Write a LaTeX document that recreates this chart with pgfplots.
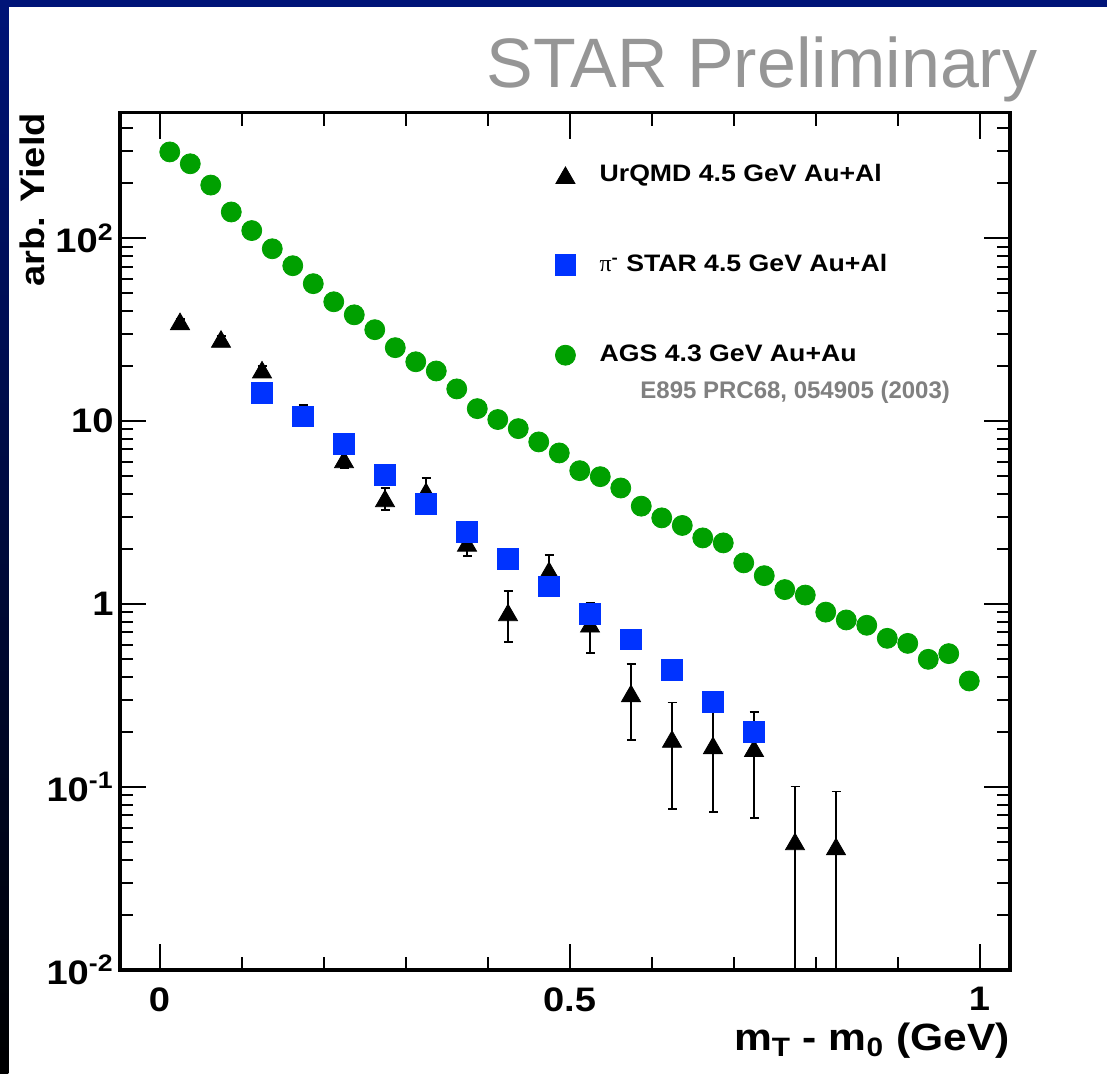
\documentclass[border=0pt]{standalone}
\usepackage{fontspec}
\setmainfont{Liberation Sans}[FakeStretch=1.12]
\newfontfamily\plainsans{Liberation Sans}
\newfontfamily\greekfont{Liberation Serif}
\usepackage{pgfplots}
\pgfplotsset{compat=1.18}

\definecolor{slidenavy}{RGB}{0,20,120}
\definecolor{rootgreen}{RGB}{0,160,0}
\definecolor{rootblue}{RGB}{0,51,255}
\definecolor{prelimgray}{RGB}{150,150,150}
\definecolor{refgray}{RGB}{128,128,128}

% UrQMD 4.5 GeV Au+Al
\pgfplotstableread{
x      y       ey
0.025  35.1    1.0
0.075  28.1    1.0
0.125  19.1    0.9
0.175  10.8    1.4
0.225  6.17    0.6
0.275  3.78    0.52
0.325  4.13    0.77
0.375  2.16    0.33
0.425  0.90    0.28
0.475  1.53    0.33
0.525  0.78    0.24
0.575  0.325   0.145
0.625  0.183   0.107
0.675  0.169   0.096
0.725  0.163   0.095
0.775  0.0504  0.0503
0.825  0.0473  0.0472
}\urqmd

% pi- STAR 4.5 GeV Au+Al
\pgfplotstableread{
x      y
0.125  14.3
0.175  10.6
0.225  7.5
0.275  5.06
0.325  3.53
0.375  2.47
0.425  1.76
0.475  1.25
0.525  0.88
0.575  0.641
0.625  0.436
0.675  0.292
0.725  0.200
}\starpi

% AGS 4.3 GeV Au+Au (E895)
\pgfplotstableread{
x       y
0.0125  296
0.0375  255
0.0625  195
0.0875  139
0.1125  110
0.1375  87.5
0.1625  70.7
0.1875  56.4
0.2125  44.9
0.2375  38.1
0.2625  31.6
0.2875  25.2
0.3125  21.1
0.3375  18.8
0.3625  15.0
0.3875  11.7
0.4125  10.2
0.4375  9.1
0.4625  7.7
0.4875  6.7
0.5125  5.36
0.5375  4.97
0.5625  4.31
0.5875  3.43
0.6125  2.96
0.6375  2.69
0.6625  2.30
0.6875  2.16
0.7125  1.68
0.7375  1.43
0.7625  1.20
0.7875  1.12
0.8125  0.904
0.8375  0.819
0.8625  0.766
0.8875  0.650
0.9125  0.610
0.9375  0.499
0.9625  0.536
0.9875  0.380
}\ags

\begin{document}
\begin{tikzpicture}
\useasboundingbox (-60pt,-51.5pt) rectangle (493.5pt,485pt);
\fill[white] (-60pt,-51.5pt) rectangle (493.5pt,485pt);
\fill[slidenavy] (-60pt,481.25pt) rectangle (493.5pt,485pt);
\shade[top color=slidenavy, bottom color=black] (-60pt,-51.5pt) rectangle (-55.75pt,485pt);

\begin{axis}[
  at={(0,0)}, anchor=south west,
  width=445pt, height=428.65pt, scale only axis,
  xmin=-0.0482, xmax=1.0372,
  ymode=log, ymin=0.01, ymax=484.9,
  xtick={0,0.5,1}, xticklabels={0,0.5,1},
  minor xtick={0.1,0.2,0.3,0.4,0.6,0.7,0.8,0.9},
  ytick={0.01,0.1,1,10,100},
  yticklabels={10\textsuperscript{-2},10\textsuperscript{-1},1,10,10\textsuperscript{2}},
  minor ytick={0.02,0.03,0.04,0.05,0.06,0.07,0.08,0.09,
               0.2,0.3,0.4,0.5,0.6,0.7,0.8,0.9,
               2,3,4,5,6,7,8,9,
               20,30,40,50,60,70,80,90,
               200,300,400},
  tick align=inside,
  major tick length=13pt, minor tick length=6.5pt,
  every tick/.style={black, line width=1pt},
  axis line style={line width=1.7pt},
  tick label style={font=\fontsize{17}{20}\selectfont\bfseries},
  xticklabel style={anchor=north, inner sep=0pt, yshift=-8.5pt},
  yticklabel style={anchor=east, inner sep=0pt, xshift=-3pt},
  xlabel={m\textsubscript{T} - m\textsubscript{0} (GeV)},
  xlabel style={at={(axis description cs:1,-0.0933)}, anchor=base east,
                inner sep=0pt, font=\fontsize{19}{22}\selectfont\bfseries},
  ylabel={arb. Yield},
  ylabel style={at={(axis description cs:-0.099,1)}, anchor=east,
                inner sep=0pt, font=\fontsize{17}{20}\selectfont\bfseries},
  legend style={draw=none, fill=none, at={(axis description cs:0.4888,0.9405)},
                anchor=north west, inner sep=0pt, outer sep=0pt,
                row sep=33.5pt, column sep=11.9pt,
                font=\fontsize{11.9}{14}\selectfont\bfseries,
                nodes={inner sep=0pt, text height=9pt, text depth=2.5pt}},
  legend cell align=left,
]
\addplot[only marks, mark=triangle*, mark size=5.5pt, black,
  mark options={fill=black, draw=black, yshift=-1.375pt},
  error bars/.cd, y dir=both, y explicit,
  error bar style={line width=0.9pt, black},
  error mark options={rotate=90, mark size=2.25pt, line width=0.9pt, black}]
  table[x=x, y=y, y error=ey] {\urqmd};
\addlegendentry{UrQMD 4.5 GeV Au+Al}

\addplot[only marks, mark=square*, mark size=5.2pt,
  mark options={fill=rootblue, draw=rootblue}]
  table[x=x, y=y] {\starpi};
\addlegendentry{{\greekfont\mdseries π}\textsuperscript{-} STAR 4.5 GeV Au+Al}

\addplot[only marks, mark=*, mark size=5pt,
  mark options={fill=rootgreen, draw=rootgreen}]
  table[x=x, y=y] {\ags};
\addlegendentry{AGS 4.3 GeV Au+Au}
\end{axis}

\node[anchor=base west, inner sep=0pt, text=prelimgray,
  font=\plainsans\fontsize{35}{40}\selectfont] at (183pt,441pt) {STAR Preliminary};
\node[anchor=base west, inner sep=0pt, text=refgray,
  font=\plainsans\bfseries\fontsize{12}{14}\selectfont] at (260pt,286pt) {E895 PRC68, 054905 (2003)};
\end{tikzpicture}
\end{document}
